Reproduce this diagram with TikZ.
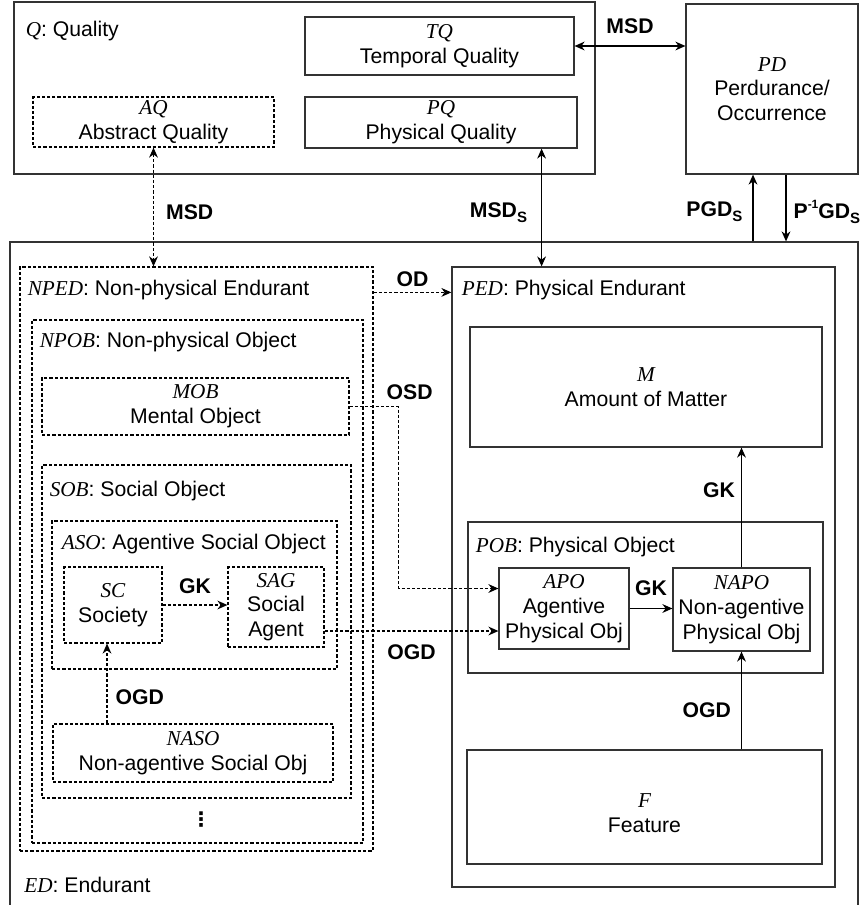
\documentclass[tikz,border=0pt]{standalone}
\usepackage{fontspec}
\setmainfont{Liberation Sans}
\newfontfamily\abfont{Liberation Serif}
\newfontfamily\symfont{DejaVu Sans}
\usetikzlibrary{positioning,arrows.meta}

\newcommand{\kind}[1]{{\abfont\itshape #1}}
\newcommand{\diagfont}{\fontsize{10.6}{12.4}\selectfont}
\newcommand{\supsc}[1]{\raisebox{0.85ex}{\fontsize{6}{6}\selectfont #1}}
\newcommand{\subsc}[1]{\raisebox{-0.45ex}{\fontsize{7.5}{8}\selectfont #1}}

\tikzset{
  box/.style={draw=black!80, line width=0.6pt, inner sep=0pt, align=center},
  dashbox/.style={box, draw=black, dash pattern=on 1.6pt off 1pt},
  title/.style={anchor=west, inner sep=0pt},
  conn/.style={line width=0.6pt},
  dconn/.style={conn, dash pattern=on 1.6pt off 1pt},
  lbl/.style={font=\diagfont\bfseries, inner sep=1pt}
}

\begin{document}
\begin{tikzpicture}[x=0.5pt, y=-0.5pt, font=\diagfont,
                >={Stealth[length=5pt,width=4.4pt,inset=1.6pt]}]
  \useasboundingbox (0,0) rectangle (862,905);
  \clip (0,0) rectangle (862,905);

  % qualities and perdurants
  \node[box, minimum width=290.5pt, minimum height=86pt] (q) at (304.5,88) {};
  \node[title] (q-t) at ([shift={(6pt,-15pt)}]q.north west) {\kind{Q}: Quality};
  \node[box, minimum width=134.5pt, minimum height=29pt] (tq) at (439.5,46) {\kind{TQ}\\Temporal Quality};
  \node[box, minimum width=136pt, minimum height=25.5pt] (pq) at (441,122.5) {\kind{PQ}\\Physical Quality};
  \node[dashbox, minimum width=120.5pt, minimum height=25pt] (aq) at (153.5,122) {\kind{AQ}\\Abstract Quality};
  \node[box, minimum width=86pt, minimum height=85pt] (pd) at (772,89) {\kind{PD}\\Perdurance/\\Occurrence};

  % endurants
  \node[box, minimum width=424pt, minimum height=344pt] (ed) at (434,586) {};
  \node[title] (ed-t) at (24,885) {\kind{ED}: Endurant};

  % physical side
  \node[box, minimum width=191.5pt, minimum height=310pt] (ped) at (643.5,577) {};
  \node[title] (ped-t) at ([shift={(5pt,-12pt)}]ped.north west) {\kind{PED}: Physical Endurant};
  \node[box, minimum width=176pt, minimum height=60pt] (m) at (646,387) {\kind{M}\\Amount of Matter};
  \node[box, minimum width=177.5pt, minimum height=75.5pt] (pob) at (645.5,597.5) {};
  \node[title] (pob-t) at ([shift={(4pt,-13pt)}]pob.north west) {\kind{POB}: Physical Object};
  \node[box, minimum width=65pt, minimum height=40.5pt] (apo) at (564,608.5) {\kind{APO}\\Agentive\\Physical Obj};
  \node[box, minimum width=68.5pt, minimum height=41.5pt] (napo) at (741.5,609.5) {\kind{NAPO}\\Non-agentive\\Physical Obj};
  \node[box, minimum width=177.5pt, minimum height=57pt] (f) at (644.5,807) {\mbox{}\\[1pt]\kind{F}\\Feature};

  % non-physical side
  \node[dashbox, minimum width=176.5pt, minimum height=292pt] (nped) at (196.5,559) {};
  \node[title] (nped-t) at ([shift={(4pt,-12pt)}]nped.north west) {\kind{NPED}: Non-physical Endurant};
  \node[dashbox, minimum width=165.5pt, minimum height=261.5pt] (npob) at (197.5,581.5) {};
  \node[title] (npob-t) at ([shift={(4pt,-11.5pt)}]npob.north west) {\kind{NPOB}: Non-physical Object};
  \node[dashbox, minimum width=153.5pt, minimum height=28.5pt] (mob) at (195.5,406.5) {\kind{MOB}\\Mental Object};
  \node[dashbox, minimum width=154.5pt, minimum height=166.5pt] (sob) at (196.5,631.5) {};
  \node[title] (sob-t) at ([shift={(4pt,-13.5pt)}]sob.north west) {\kind{SOB}: Social Object};
  \node[dashbox, minimum width=142.5pt, minimum height=74pt] (aso) at (194.5,595) {};
  \node[title] (aso-t) at ([shift={(5pt,-12pt)}]aso.north west) {\kind{ASO}: Agentive Social Object};
  \node[dashbox, minimum width=49pt, minimum height=38pt] (sc) at (113,605) {\kind{SC}\\Society};
  \node[dashbox, minimum width=48pt, minimum height=40pt] (sag) at (276,607) {\kind{SAG}\\Social\\Agent};
  \node[dashbox, minimum width=140pt, minimum height=29pt] (naso) at (193,753) {\kind{NASO}\\Non-agentive Social Obj};
  \node[font=\symfont\bfseries\fontsize{10}{10}\selectfont] (more) at (201,820) {⋮};

  % helper points
  \coordinate (pq-foot) at ([xshift=-18pt]pq.south east);
  \coordinate (pgd-top) at ([xshift=-9.5pt]pd.south);
  \coordinate (pig-top) at ([xshift=7pt]pd.south);
  \coordinate (od-start) at ([yshift=-13pt]nped.north east);
  \coordinate (osd-end) at ([yshift=10pt]apo.west);
  \coordinate (ogd-start) at ([yshift=-12pt]sag.east);
  \coordinate (sc-foot) at ([xshift=-3pt]sc.south);

  % dependencies
  \draw[conn, <->] (tq.east) -- (tq.east -| pd.west)
    node[lbl, midway, above=5pt] (msd-t) {MSD};
  \draw[conn, <->] (pq-foot) -- (pq-foot |- ped.north)
    node[lbl, midway, left=6pt, yshift=-2.5pt] (msd-p) {MSD\subsc{S}};
  \draw[dconn, <->] (aq.south) -- (aq.south |- nped.north)
    node[lbl, midway, right=5pt, yshift=-2.5pt] (msd-a) {MSD};
  \draw[conn, ->] (pgd-top |- ed.north) -- (pgd-top)
    node[lbl, midway, left=4pt, yshift=-2pt] (pgd-l) {PGD\subsc{S}};
  \draw[conn, ->] (pig-top) -- (pig-top |- ed.north)
    node[lbl, midway, right=2.5pt, yshift=-2pt] (pig-l) {P\supsc{-1}GD\subsc{S}};
  \draw[dconn, ->] (od-start) -- (od-start -| ped.west)
    node[lbl, midway, above=1.5pt] (od-l) {OD};
  \draw[dconn, ->] (mob.east) -- ++(24.5pt,0)
    node[lbl, above=2pt, xshift=5.5pt] (osd-l) {OSD} |- (osd-end);
  \draw[dconn, ->] (ogd-start) -- (ogd-start -| apo.west)
    node[lbl, midway, below=5.5pt] (ogd-s) {OGD};
  \draw[dconn, ->] (sc.east) -- (sc.east -| sag.west)
    node[lbl, midway, above=4.5pt] (gk-s) {GK};
  \draw[dconn, ->] (sc-foot |- naso.north) -- (sc-foot)
    node[lbl, pos=0.33, right=3pt] (ogd-n) {OGD};
  \draw[conn, ->] (apo.east) -- (apo.east -| napo.west)
    node[lbl, midway, above=5pt] (gk-a) {GK};
  \draw[conn, ->] (napo.north) -- (napo.north |- m.south)
    node[lbl, pos=0.645, left=2pt] (gk-n) {GK};
  \draw[conn, ->] (napo.south |- f.north) -- (napo.south)
    node[lbl, pos=0.4, left=4pt] (ogd-f) {OGD};
\end{tikzpicture}
\end{document}
